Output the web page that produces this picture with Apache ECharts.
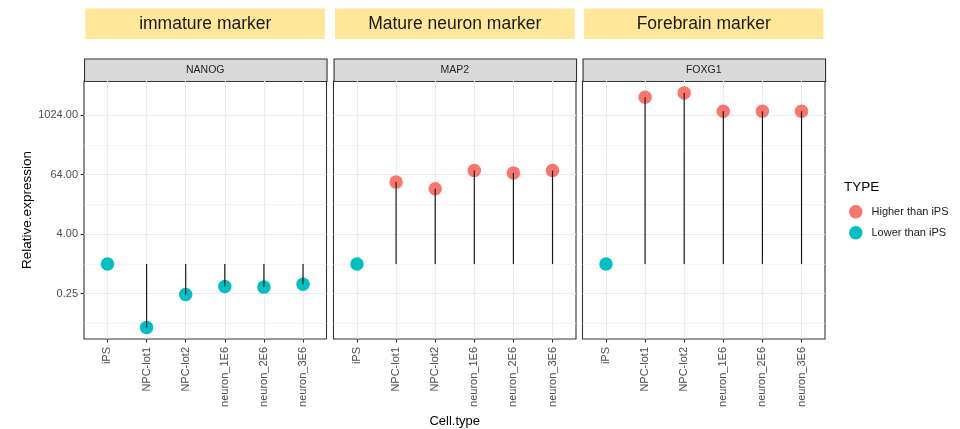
<!DOCTYPE html>
<html><head><meta charset="utf-8">
<script src="https://cdn.jsdelivr.net/npm/echarts@6/dist/echarts.min.js"></script>
<style>html,body{margin:0;padding:0;background:#fff}#c{width:960px;height:429px}</style>
</head><body><div id="c"></div>
<script>
const categories = ['iPS','NPC-lot1','NPC-lot2','neuron_1E6','neuron_2E6','neuron_3E6'];
const genes = ['NANOG','MAP2','FOXG1'];
const groups = ['immature marker','Mature neuron marker','Forebrain marker'];
const nanog = [1, 0.052, 0.24, 0.35, 0.34, 0.39];
const map2 = [1, 45, 33, 77, 69, 77];
const foxg1 = [1, 2340, 2860, 1217, 1217, 1217];
const nanogType = ['Lower than iPS','Lower than iPS','Lower than iPS','Lower than iPS','Lower than iPS','Lower than iPS'];
const map2Type = ['Lower than iPS','Higher than iPS','Higher than iPS','Higher than iPS','Higher than iPS','Higher than iPS'];
const foxg1Type = ['Lower than iPS','Higher than iPS','Higher than iPS','Higher than iPS','Higher than iPS','Higher than iPS'];
const yTicks = [0.25, 4, 64, 1024];
const yMinorTicks = [0.0625, 1, 16, 256];
const typeNames = ['Higher than iPS','Lower than iPS'];
const typeColors = {'Higher than iPS':'#F8766D','Lower than iPS':'#00BFC4'};
const baseline = 1;

const values = [nanog, map2, foxg1];
const types = [nanogType, map2Type, foxg1Type];

// layout
const FONT = "'Liberation Sans', Arial, sans-serif";
const panelLeft = [84, 333.5, 582.5];
const panelW = 242.5, panelTop = 81, panelH = 258;
const stripTop = 58.5, stripH = 22.5;
const headTop = 8.5, headH = 30.5;
const yMin = -5.04, yMax = 12.28;

const grids = [], xAxes = [], yAxes = [], series = [], graphics = [];
for (let p = 0; p < 3; p++) {
  grids.push({left: panelLeft[p], top: panelTop, width: panelW, height: panelH,
    outerBoundsMode: 'none', containLabel: false,
    show: true, borderColor: '#333333', borderWidth: 1.1, backgroundColor: 'transparent'});
  xAxes.push({
    type: 'value', gridIndex: p, min: -0.6, max: 5.6, position: 'bottom',
    axisLine: {show: false, onZero: false},
    axisTick: {show: true, length: 3.5, lineStyle: {color: '#333333', width: 1.1}, customValues: [0,1,2,3,4,5]},
    axisLabel: {customValues: [0,1,2,3,4,5], rotate: 90, margin: 8, color: '#4D4D4D', fontSize: 11, fontFamily: FONT,
      formatter: v => categories[Math.round(v)]},
    splitLine: {show: true, lineStyle: {color: '#EBEBEB', width: 1.1}},
    name: p === 1 ? 'Cell.type' : '', nameLocation: 'middle', nameGap: 75,
    nameTextStyle: {fontSize: 13, color: '#000', fontFamily: FONT}
  });
  yAxes.push({
    type: 'value', gridIndex: p, min: yMin, max: yMax, position: 'left',
    axisLine: {show: false, onZero: false},
    axisTick: {show: p === 0, length: 3.5, lineStyle: {color: '#333333', width: 1.1}, customValues: yTicks.map(Math.log2)},
    axisLabel: {show: p === 0, customValues: yTicks.map(Math.log2), margin: 6, color: '#4D4D4D', fontSize: 11, fontFamily: FONT,
      formatter: v => Math.pow(2, v).toFixed(2)},
    splitLine: {show: true, lineStyle: {color: '#EBEBEB', width: 1.1}},
    name: p === 0 ? 'Relative.expression' : '', nameLocation: 'middle', nameGap: 50, nameRotate: 90,
    nameTextStyle: {fontSize: 13.5, color: '#000', fontFamily: FONT}
  });
  yAxes.push({
    type: 'value', gridIndex: p, min: yMin, max: yMax, position: 'left',
    axisLine: {show: false, onZero: false},
    axisTick: {show: false, customValues: yMinorTicks.map(Math.log2)},
    axisLabel: {show: false},
    splitLine: {show: true, lineStyle: {color: '#EFEFEF', width: 0.7}}
  });
  for (const t of typeNames) {
    series.push({
      type: 'scatter', name: t, xAxisIndex: p, yAxisIndex: 2 * p,
      symbol: 'circle', symbolSize: 13.5, z: 3,
      itemStyle: {color: typeColors[t], opacity: 1},
      data: values[p].map((v, i) => types[p][i] === t ? [i, Math.log2(v)] : null).filter(d => d)
    });
  }
  series.push({
    type: 'custom', xAxisIndex: p, yAxisIndex: 2 * p, z: 4, silent: true,
    data: values[p].map((v, i) => [i, Math.log2(v)]).filter(d => d[1] !== Math.log2(baseline)),
    renderItem: (params, api) => {
      const a = api.coord([api.value(0), Math.log2(baseline)]);
      const b = api.coord([api.value(0), api.value(1)]);
      return {type: 'line', shape: {x1: a[0], y1: a[1], x2: b[0], y2: b[1]},
        style: {stroke: '#1A1A1A', lineWidth: 1.2}};
    }
  });
  // strip
  graphics.push({type: 'rect', left: panelLeft[p], top: stripTop,
    shape: {width: panelW, height: stripH}, style: {fill: '#D9D9D9', stroke: '#333333', lineWidth: 1.1}});
  graphics.push({type: 'text', x: panelLeft[p] + panelW / 2, y: stripTop + stripH / 2 + 0.5,
    style: {text: genes[p], fill: '#262626', font: '10.5px ' + FONT, textAlign: 'center', textVerticalAlign: 'middle'}});
  // header
  graphics.push({type: 'rect', left: panelLeft[p] + 1.5, top: headTop,
    shape: {width: panelW - 3, height: headH}, style: {fill: '#FFE699'}});
  graphics.push({type: 'text', x: panelLeft[p] + panelW / 2, y: headTop + headH / 2,
    style: {text: groups[p], fill: '#1A1A1A', font: '17.5px ' + FONT, textAlign: 'center', textVerticalAlign: 'middle'}});
}
graphics.push({type: 'text', x: 844, y: 187.5,
  style: {text: 'TYPE', fill: '#000', font: '13.5px ' + FONT, textAlign: 'left', textVerticalAlign: 'middle'}});

const chart = echarts.init(document.getElementById('c'), null, {renderer: 'canvas'});
chart.setOption({
  animation: false,
  backgroundColor: '#fff',
  grid: grids, xAxis: xAxes, yAxis: yAxes, series: series,
  legend: {data: typeNames, orient: 'vertical', left: 844, top: 200, itemWidth: 13.5, itemHeight: 13.5, itemGap: 7.5,
    icon: 'circle', textStyle: {fontSize: 11, color: '#1A1A1A', fontFamily: FONT, padding: [0,0,0,4]}, selectedMode: false},
  graphic: graphics
});
</script></body></html>
